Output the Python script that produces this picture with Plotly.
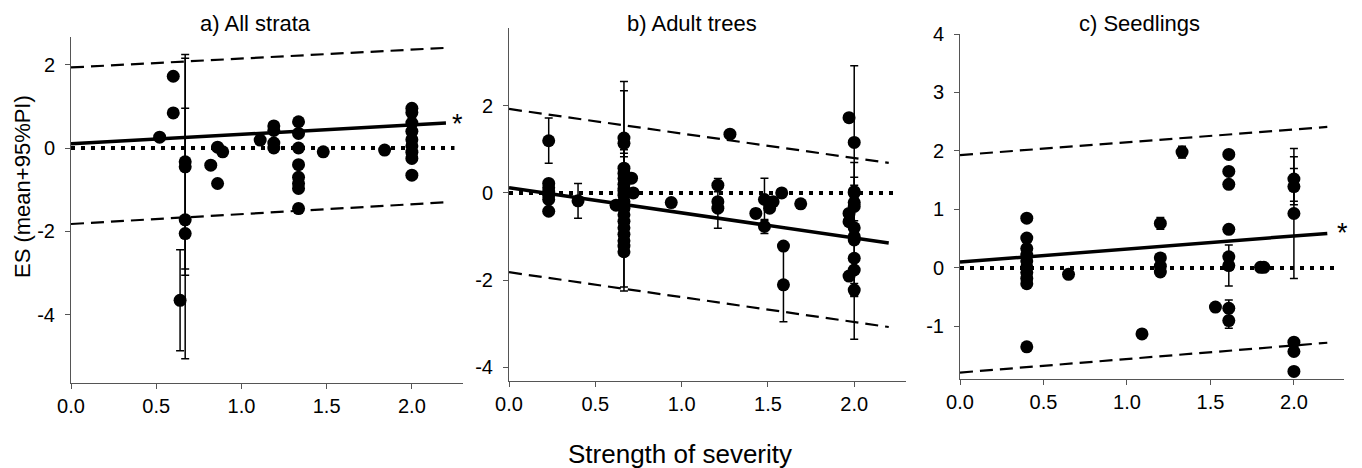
import plotly.graph_objects as go

# ---------------- data ----------------
# Panel a) All strata
a_x = [0.52, 0.60, 0.60, 0.64, 0.67, 0.67, 0.67, 0.67, 0.82, 0.86, 0.89, 0.86, 1.11,
       1.19, 1.19, 1.19, 1.19,
       1.335, 1.335, 1.335, 1.335, 1.335, 1.335, 1.335, 1.335,
       1.48, 1.84,
       2.0, 2.0, 2.0, 2.0, 2.0, 2.0, 2.0, 2.0, 2.0]
a_y = [0.26, 1.72, 0.84, -3.65, -0.33, -0.45, -1.72, -2.05, -0.41, 0.02, -0.09, -0.85, 0.19,
       0.53, 0.42, 0.12, 0.0,
       0.63, 0.35, 0.0, -0.4, -0.7, -0.85, -0.97, -1.45,
       -0.09, -0.05,
       0.95, 0.85, 0.6, 0.4, 0.2, 0.05, -0.1, -0.25, -0.65]
a_err = [0, 0, 0, 1.21, 2.57, 2.6, 0, 3.0, 0, 0, 0, 0, 0,
         0, 0, 0, 0,
         0, 0, 0, 0, 0, 0, 0, 0.1,
         0, 0,
         0, 0, 0, 0, 0, 0, 0, 0, 0]
a_fit_x = [0.0, 2.2]
a_fit_y = [0.10, 0.60]
a_pi_up = [1.93, 2.40]
a_pi_lo = [-1.82, -1.30]
a_yticks = [-4, -2, 0, 2]

# Panel b) Adult trees
b_x = [0.23, 0.23, 0.23, 0.23, 0.23, 0.23, 0.23,
       0.40, 0.62,
       0.666, 0.666, 0.666, 0.666, 0.666, 0.666, 0.666, 0.666, 0.666,
       0.666, 0.666, 0.666, 0.666, 0.666, 0.666, 0.666, 0.666, 0.666,
       0.71, 0.72, 0.94,
       1.21, 1.21, 1.21, 1.28, 1.43, 1.48, 1.48, 1.51, 1.53, 1.58,
       1.59, 1.59, 1.69,
       1.97, 1.97, 1.97, 1.97,
       2.0, 2.0, 2.0, 2.0, 2.0, 2.0, 2.0, 2.0, 2.0, 2.0, 2.0]
b_y = [1.20, 0.22, 0.12, 0.02, -0.05, -0.15, -0.42,
       -0.18, -0.28,
       1.26, 1.14, 0.57, 0.45, 0.33, 0.20, 0.10, 0.05, -0.05,
       -0.20, -0.35, -0.50, -0.65, -0.80, -0.95, -1.10, -1.22, -1.35,
       0.34, 0.0, -0.22,
       0.18, -0.20, -0.35, 1.35, -0.47, -0.15, -0.77, -0.35, -0.20, 0.0,
       -1.22, -2.11, -0.25,
       1.73, -0.47, -0.66, -1.91,
       1.16, 0.03, 0.0, -0.22, -0.31, -0.80, -1.0, -1.08, -1.50, -1.77, -2.23]
b_err = [0.52, 0, 0, 0, 0, 0, 0,
         0.40, 0,
         0, 0, 0.42, 0.46, 0.50, 2.36, 0, 2.30, 0,
         0, 0, 0, 0, 0, 0, 0, 0, 0,
         0, 0, 0,
         0.15, 0, 0.46, 0, 0.10, 0.49, 0.16, 0, 0, 0.08,
         0, 0.85, 0,
         0, 0, 0, 0,
         0, 0.67, 0.18, 3.14, 0, 0, 1.36, 0, 0, 0, 0.15]
b_fit_x = [0.0, 2.2]
b_fit_y = [0.12, -1.15]
b_pi_up = [1.93, 0.69]
b_pi_lo = [-1.82, -3.08]
b_yticks = [-4, -2, 0, 2]

# Panel c) Seedlings
c_x = [0.40, 0.40, 0.40, 0.40, 0.40, 0.40, 0.40, 0.40, 0.40, 0.40,
       0.65, 1.09,
       1.20, 1.20, 1.20, 1.20,
       1.33, 1.53,
       1.61, 1.61, 1.61, 1.61, 1.61, 1.61, 1.61, 1.61,
       1.80, 1.82,
       2.0, 2.0, 2.0, 2.0, 2.0, 2.0]
c_y = [0.85, 0.51, 0.33, 0.22, 0.12, 0.02, -0.08, -0.18, -0.27, -1.35,
       -0.11, -1.13,
       0.76, 0.17, 0.03, -0.07,
       1.98, -0.67,
       1.94, 1.65, 1.43, 0.66, 0.19, 0.04, -0.69, -0.90,
       0.01, 0.01,
       1.52, 1.39, 0.93, -1.27, -1.43, -1.77]
c_err = [0, 0, 0, 0, 0, 0, 0, 0, 0, 0,
         0.05, 0.07,
         0.10, 0, 0, 0,
         0.10, 0,
         0, 0, 0, 0, 0, 0.35, 0.14, 0.13,
         0, 0,
         0.38, 0.31, 1.11, 0, 0, 0]
c_fit_x = [0.0, 2.2]
c_fit_y = [0.10, 0.59]
c_pi_up = [1.93, 2.41]
c_pi_lo = [-1.79, -1.28]
c_yticks = [-1, 0, 1, 2, 3, 4]

x_ticks = [0.0, 0.5, 1.0, 1.5, 2.0]
titles = ["a) All strata", "b) Adult trees", "c) Seedlings"]
x_label = "Strength of severity"
y_label = "ES (mean+95%PI)"
zero_x = [0.0, 2.25]
zero_y = [0.0, 0.0]
star_pos = [(2.27, 0.72), (2.31, -1.31), (2.29, 0.70)]

# ---------------- figure ----------------
# the page body has an 8px margin, so the figure is laid out 8px smaller
OFF = 8
W, H = 1362 - OFF, 468 - OFF
FONT = "Liberation Sans, Arial, sans-serif"
fig = go.Figure()


def fx_(px):  # window pixel -> paper x
    return (px - OFF) / W


def fy_(py):  # window pixel -> paper y
    return (H - (py - OFF)) / H


panels = [
    (a_x, a_y, a_err, a_fit_x, a_fit_y, a_pi_up, a_pi_lo, a_yticks),
    (b_x, b_y, b_err, b_fit_x, b_fit_y, b_pi_up, b_pi_lo, b_yticks),
    (c_x, c_y, c_err, c_fit_x, c_fit_y, c_pi_up, c_pi_lo, c_yticks),
]
# pixel boxes in the window: (left, right, top, bottom)
boxes = [(71, 463, 37, 383), (509, 906, 28, 381), (960, 1344, 34, 379)]
yranges = [[-5.63, 2.66], [-4.32, 3.79], [-1.90, 4.0]]
title_cx = [255, 692, 1139]

for i, (px, py, pe, fx, fy, fu, fl, yt) in enumerate(panels):
    xa = "x" if i == 0 else f"x{i+1}"
    ya = "y" if i == 0 else f"y{i+1}"
    fig.add_trace(go.Scatter(x=zero_x, y=zero_y, mode="lines", xaxis=xa, yaxis=ya,
                             line=dict(color="black", width=4, dash="4px,6px"),
                             showlegend=False, hoverinfo="skip"))
    for band in (fu, fl):
        fig.add_trace(go.Scatter(x=fx, y=band, mode="lines", xaxis=xa, yaxis=ya,
                                 line=dict(color="black", width=2.2, dash="13px,7px"),
                                 showlegend=False, hoverinfo="skip"))
    fig.add_trace(go.Scatter(x=fx, y=fy, mode="lines", xaxis=xa, yaxis=ya,
                             line=dict(color="black", width=3.5),
                             showlegend=False, hoverinfo="skip"))
    fig.add_trace(go.Scatter(x=px, y=py, mode="markers", xaxis=xa, yaxis=ya,
                             marker=dict(color="black", size=13),
                             error_y=dict(type="data", array=pe, visible=True,
                                          color="black", thickness=1.5, width=4),
                             showlegend=False))

    l, r, t, b = boxes[i]
    axis_common = dict(showline=True, linecolor="#555", linewidth=1, ticks="outside",
                       ticklen=5, tickcolor="#555", showgrid=False, zeroline=False,
                       automargin=False,
                       tickfont=dict(family=FONT, size=20, color="black"))
    fig.update_layout(**{
        ("xaxis" if i == 0 else f"xaxis{i+1}"): dict(
            domain=[fx_(l), fx_(r)], range=[0, 2.3], tickmode="array",
            tickvals=x_ticks, ticktext=[f"{v:.1f}" for v in x_ticks],
            anchor=ya, ticklabelstandoff=0, **axis_common),
        ("yaxis" if i == 0 else f"yaxis{i+1}"): dict(
            domain=[fy_(b), fy_(t)], range=yranges[i], tickmode="array",
            tickvals=yt, ticktext=[str(v) for v in yt],
            anchor=xa, ticklabelstandoff=6, **axis_common),
    })
    fig.add_annotation(x=fx_(title_cx[i]), y=fy_(23), xref="paper", yref="paper",
                       text=titles[i], showarrow=False, xanchor="center", yanchor="middle",
                       font=dict(family=FONT, size=22, color="black"))
    sx, sy = star_pos[i]
    fig.add_annotation(x=sx, y=sy, xref=xa, yref=ya, text="*", showarrow=False,
                       xanchor="center", yanchor="middle", yshift=-6,
                       font=dict(family=FONT, size=27, color="black"))

fig.add_annotation(x=fx_(680), y=fy_(454), xref="paper", yref="paper", text=x_label,
                   showarrow=False, xanchor="center", yanchor="middle",
                   font=dict(family=FONT, size=26, color="black"))
fig.add_annotation(x=fx_(22), y=fy_(187), xref="paper", yref="paper", text=y_label,
                   showarrow=False, textangle=-90, xanchor="center", yanchor="middle",
                   font=dict(family=FONT, size=22, color="black"))

fig.update_layout(template="none", width=W, height=H,
                  margin=dict(l=0, r=0, t=0, b=0, autoexpand=False),
                  paper_bgcolor="white", plot_bgcolor="white",
                  font=dict(family=FONT, color="black"))

fig.write_html("out.html", config={"displayModeBar": False})
